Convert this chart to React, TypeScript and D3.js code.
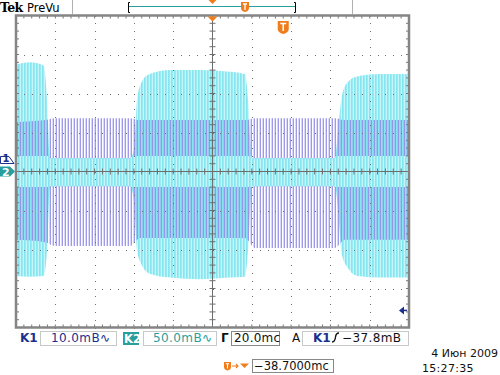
import React from 'react';
import * as d3 from 'd3';

const W = 500;
const H = 375;

// Channel 2 (cyan), time in ms relative to screen centre (20 ms/div), envelope in mV (50 mV/div)
const ch2Time = [-100, -93, -86, -84.2, -82.7, -77.6, -42, -40, -38.4, -36, -32, -21.6, -6.4, 8.9, 16.5, 18.1, 20.1, 62.3, 63.9, 65.9, 69, 74, 85.2, 100];
const ch2Max = [137, 140, 136, 92, 17, 17, 17, 28, 92, 115, 125, 130, 130, 128, 125, 92, 17, 17, 53, 98, 115, 122, 125, 125];
const ch2Min = [-134, -135, -134, -101, -19, -19, -19, -37, -101, -120, -131, -136, -138, -136, -135, -101, -19, -19, -49, -107, -124, -134, -136, -136];

// Channel 1 (violet), envelope in mV (10 mV/div)
const ch1Time = [-100, -85.2, -80.2, -42, -36.9, 16.5, 21.6, 62.3, 67.4, 100];
const ch1Max = [10.5, 11.0, 11.5, 11.5, 11.0, 11.0, 11.5, 11.5, 11.0, 11.0];
const ch1Min = [-19.7, -20.3, -21.3, -21.3, -19.2, -19.2, -21.8, -21.8, -19.7, -19.7];

// Readouts
const ch1Scale = '10.0mB∿';
const ch2Scale = '50.0mB∿';
const timeScale = '20.0mc';
const trigLevelMv = -37.8;
const trigLevel = '−37.8mB';
const trigMarkMs = 36;
const trigPos = '−38.7000mc';
const dateText = '4 Июн 2009';
const timeText = '15:27:35';

const L = 16, R = 409, T = 15.5, B = 327.5;
const FONT = 'DejaVu Sans, Verdana, sans-serif';

export default function App() {
  const x = d3.scaleLinear().domain([-100, 100]).range([L, R]);
  const yC = d3.scaleLinear().domain([-200, 200]).range([B, T]);
  const ch1Offset = 2.18; // ch1 ground above centre, in mV
  const yP = d3.scaleLinear().domain([-40 - ch1Offset, 40 - ch1Offset]).range([B, T]);

  const cyanArea = d3
    .area<number>()
    .x((i) => x(ch2Time[i]))
    .y0((i) => yC(ch2Min[i]))
    .y1((i) => yC(ch2Max[i]))
    .curve(d3.curveMonotoneX);
  const violetArea = d3
    .area<number>()
    .x((i) => x(ch1Time[i]))
    .y0((i) => yP(ch1Min[i]))
    .y1((i) => yP(ch1Max[i]))
    .curve(d3.curveMonotoneX);
  const cyanPath = cyanArea(d3.range(ch2Time.length)) || '';
  const violetPath = violetArea(d3.range(ch1Time.length)) || '';

  const gridT = d3.range(-80, 81, 20).filter((t) => t !== 0);
  const gridV = d3.range(-150, 151, 50).filter((v) => v !== 0);
  const minorT = d3.range(-100, 100.01, 4);
  const minorV = d3.range(-200, 200.01, 10);

  const dots: JSX.Element[] = [];
  gridT.forEach((t) =>
    minorV.forEach((v, k) =>
      dots.push(<rect key={`vt${t}_${k}`} x={Math.round(x(t))} y={Math.round(yC(v))} width={1} height={1} fill="#6f6f6f" />)
    )
  );
  gridV.forEach((v) =>
    minorT.forEach((t, k) =>
      dots.push(<rect key={`hv${v}_${k}`} x={Math.round(x(t))} y={Math.round(yC(v))} width={1} height={1} fill="#6f6f6f" />)
    )
  );

  const cx = x(0);
  const cy = yC(0);

  return (
    <div style={{ position: 'fixed', left: 0, top: 0, width: W, height: H, background: '#fff' }}>
      <svg width={W} height={H} style={{ display: 'block' }} fontFamily={FONT}>
        <defs>
          <pattern id="cyPat" width={3} height={8} patternUnits="userSpaceOnUse">
            <rect width={3} height={8} fill="#c6f6fa" />
            <rect width={1.7} height={8} fill="#86e6f0" />
          </pattern>
          <pattern id="puPat" width={3} height={8} patternUnits="userSpaceOnUse">
            <rect x={1.7} width={1.1} height={8} fill="#8780e6" />
          </pattern>
          <clipPath id="band">
            <rect x={L} y={yC(20)} width={R - L} height={yC(-20) - yC(20)} />
          </clipPath>
          <clipPath id="plot">
            <rect x={L} y={T} width={R - L} height={B - T} />
          </clipPath>
        </defs>

        {/* traces */}
        <g clipPath="url(#plot)">
          <path d={cyanPath} fill="url(#cyPat)" />
          <path d={violetPath} fill="url(#puPat)" />
          <g clipPath="url(#band)">
            <path d={cyanPath} fill="url(#cyPat)" />
          </g>
        </g>

        {/* graticule */}
        <g>{dots}</g>
        <line x1={L} x2={R} y1={cy} y2={cy} stroke="#6e6e6e" strokeWidth={1} />
        <line x1={cx} x2={cx} y1={T} y2={B} stroke="#6e6e6e" strokeWidth={1} />
        {minorT.map((t, k) => (
          <g key={`ct${k}`}>
            <line x1={x(t)} x2={x(t)} y1={cy - 3} y2={cy + 3} stroke="#6e6e6e" />
            <line x1={x(t)} x2={x(t)} y1={T} y2={T + 3} stroke="#777" />
            <line x1={x(t)} x2={x(t)} y1={B - 3} y2={B} stroke="#777" />
          </g>
        ))}
        {minorV.map((v, k) => (
          <g key={`cv${k}`}>
            <line x1={cx - 3} x2={cx + 3} y1={yC(v)} y2={yC(v)} stroke="#6e6e6e" />
            <line x1={L} x2={L + 3} y1={yC(v)} y2={yC(v)} stroke="#777" />
            <line x1={R - 3} x2={R} y1={yC(v)} y2={yC(v)} stroke="#777" />
          </g>
        ))}
        <rect x={L} y={T} width={R - L} height={B - T} fill="none" stroke="#858585" strokeWidth={2.5} />

        {/* top status bar */}
        <text x={0} y={12} fontFamily="DejaVu Serif, serif" fontWeight="bold" fontSize={12.5} letterSpacing={-0.6} fill="#000">Tek</text>
        <text x={27} y={12} fontSize={11.5} fill="#000">PreVu</text>
        <line x1={72.5} x2={72.5} y1={0} y2={14} stroke="#b0b0b0" />
        <line x1={352.5} x2={352.5} y1={0} y2={14} stroke="#b0b0b0" />
        <path d="M130,2.5 H128.5 V12.5 H130" fill="none" stroke="#000" />
        <path d="M294,2.5 H295.5 V12.5 H294" fill="none" stroke="#000" />
        <line x1={129} x2={295} y1={6.5} y2={6.5} stroke="#2a9d9d" strokeWidth={1.2} />
        <path d={`M${cx - 4},0 H${cx + 4} L${cx},4 Z`} fill="#f07d1c" />
        <g transform="translate(241,2)">
          <path d="M0,0 H8 V6 Q8,9 4,10 Q0,9 0,6 Z" fill="#f07d1c" />
          <path d="M2,2 H6 M4,2 V8" stroke="#fff" strokeWidth={1.3} />
        </g>

        {/* trigger marker on graticule */}
        <path d={`M${cx - 5},${T + 1} H${cx + 5} L${cx},${T + 6} Z`} fill="#f07d1c" />
        <g transform={`translate(${x(trigMarkMs) - 5.5},21)`}>
          <path d="M0,0 H11 V8 Q11,11.5 5.5,13 Q0,11.5 0,8 Z" fill="#f07d1c" />
          <path d="M2.5,2.5 H8.5 M5.5,2.5 V10" stroke="#fff" strokeWidth={1.6} />
        </g>

        {/* channel ground markers */}
        <g transform={`translate(0,${yP(0)})`}>
          <path d="M0.5,-6.5 H9 L14,0.5 H0.5 Z" fill="#fff" stroke="#1b2f8f" />
          <text x={2.5} y={-0.5} fontSize={10} fontWeight="bold" fill="#1b2f8f">1</text>
        </g>
        <g transform={`translate(0,${cy})`}>
          <path d="M0,-5 H10 L15,0 L10,5 H0 Z" fill="#2a9d9d" />
          <text x={2} y={4.5} fontSize={11} fontWeight="bold" fill="#fff">2</text>
        </g>

        {/* trigger level arrow */}
        <g transform={`translate(399,${yP(trigLevelMv)})`}>
          <path d="M0,0 L5,-4 V4 Z" fill="#1b2f8f" />
          <line x1={4} x2={8} y1={0} y2={0} stroke="#1b2f8f" strokeWidth={1.5} />
        </g>

        {/* bottom readouts */}
        <g fontSize={12}>
          <text x={20} y={342} fontWeight="bold" fill="#1b2f8f">K1</text>
          <rect x={40.5} y={331.5} width={76} height={14} fill="none" stroke="#c8c8c8" />
          <text x={51} y={342} fill="#1b2f8f" letterSpacing={0.4}>{ch1Scale}</text>

          <rect x={123} y={332} width={16} height={13} fill="#2a9d9d" />
          <text x={124} y={342.5} fontWeight="bold" fill="#fff" fontSize={11.5}>K2</text>
          <rect x={143.5} y={331.5} width={73} height={14} fill="none" stroke="#c8c8c8" />
          <text x={153} y={342} fill="#2a9d9d" letterSpacing={0.4}>{ch2Scale}</text>

          <text x={221} y={342} fill="#111" fontWeight="bold">Γ</text>
          <rect x={231.5} y={331.5} width={48} height={14} fill="none" stroke="#888" />
          <text x={234} y={342} fill="#111" letterSpacing={0.2}>{timeScale}</text>

          <text x={292} y={342} fill="#111">A</text>
          <rect x={302.5} y={331.5} width={106} height={14} fill="none" stroke="#c8c8c8" />
          <text x={313} y={342} fontWeight="bold" fill="#1b2f8f">K1</text>
          <path d="M332,342 Q335,342 335.5,337 Q336,333 339,333" fill="none" stroke="#111" strokeWidth={1.4} />
          <text x={342} y={342} fill="#111" letterSpacing={0.4}>{trigLevel}</text>

          <g transform="translate(224,362)">
            <path d="M0,0 H7 V5 Q7,7.5 3.5,8.5 Q0,7.5 0,5 Z" fill="#f07d1c" />
            <path d="M1.8,1.8 H5.2 M3.5,1.8 V6.5" stroke="#fff" strokeWidth={1.1} />
            <path d="M8,4 H14 M12,2 L14,4 L12,6" fill="none" stroke="#f07d1c" strokeWidth={1.1} />
            <path d="M16,1.5 H25 L20.5,6 Z" fill="#f07d1c" />
          </g>
          <rect x={252.5} y={359.5} width={81} height={13} fill="none" stroke="#888" />
          <text x={254} y={370} fill="#111" fontSize={11.5}>{trigPos}</text>

          <text x={498} y={357} textAnchor="end" fill="#111" fontSize={11}>{dateText}</text>
          <text x={422} y={372} fill="#111" fontSize={11} letterSpacing={0.3}>{timeText}</text>
        </g>
      </svg>
    </div>
  );
}
